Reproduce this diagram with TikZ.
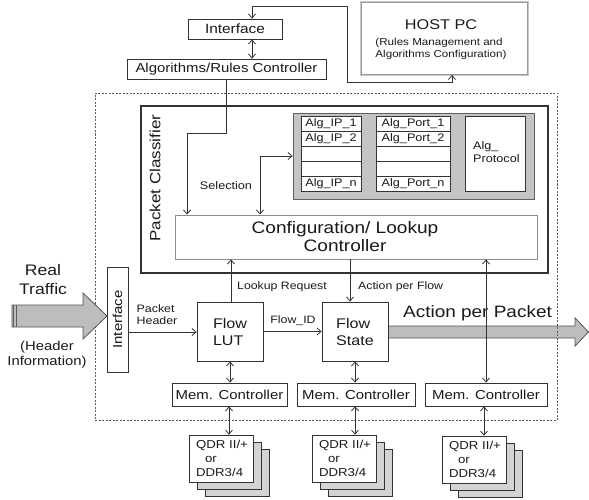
\documentclass[tikz,border=0pt]{standalone}
\usepackage{fontspec}
\setmainfont{Liberation Sans}[FakeStretch=1.15]
\usetikzlibrary{arrows.meta}
\definecolor{ink}{HTML}{1A1A1A}
\definecolor{edge}{HTML}{333333}
\definecolor{softedge}{HTML}{8C8C8C}
\definecolor{panel}{HTML}{C4C4C4}
\definecolor{bigfill}{HTML}{BDBDBD}
\definecolor{layer}{HTML}{D4D4D4}
\newcommand\fz[2]{\fontsize{#1}{#2}\selectfont}

\begin{document}
\begin{tikzpicture}[x=1pt,y=-1pt,
  >={Straight Barb[length=4pt,width=7pt]},
  box/.style={draw=edge, line width=0.8pt, fill=white, inner sep=0pt, text=ink},
  softbox/.style={draw=softedge, line width=0.9pt, fill=white, inner sep=0pt, text=ink},
  cell/.style={draw=edge, line width=0.8pt, fill=white, inner sep=0pt, text=ink,
    font=\fz{11}{13}},
  layerbox/.style={draw=edge, line width=0.7pt, fill=layer, inner sep=0pt,
    minimum width=64, minimum height=47},
  label/.style={text=ink, inner sep=0pt},
  link/.style={draw=edge, line width=0.8pt},
  frame/.style={draw=edge!80, line width=0.7pt, dash pattern=on 2pt off 1.5pt,
    inner sep=0pt},
  bigarrow/.style={fill=bigfill, draw=edge!85, line width=0.8pt, line join=miter}
]
\useasboundingbox (0,0) rectangle (589,500);

% ---- output arrow (behind the frame) ----
\draw[bigarrow] (388,326) -- (575,326) -- (575,318) -- (588.5,332) -- (575,346)
  -- (575,338) -- (388,338) -- cycle;
\node[label, font=\fz{16.5}{19}] (app) at (477.5,313) {Action per Packet};

% ---- FPGA frame ----
\node[frame, minimum width=462, minimum height=327] (fpga) at (326,256.5) {};

% ---- host side ----
\node[box, minimum width=94, minimum height=20, font=\fz{13.4}{15}] (iftop) at (235,29) {Interface};
\node[box, minimum width=199, minimum height=20, font=\fz{13}{15}] (alg) at (226.5,69) {Algorithms/Rules Controller};
\node[draw=gray!45, line width=2.2pt, minimum width=167, minimum height=73] (hostshade) at (444.5,38.5) {};
\node[draw=gray!80, line width=0.8pt, fill=white, minimum width=166, minimum height=72] (host) at (444.5,38.5) {};
\node[label, font=\fz{14.1}{16}] (hosttitle) at (441,25) {HOST PC};
\node[label, font=\fz{10.1}{12}, align=left] (hostsub) at (441,49) {(Rules Management and\\Algorithms Configuration)};

% ---- packet classifier ----
\node[draw=edge, line width=1.8pt, minimum width=407, minimum height=167, inner sep=0pt] (pc) at (344.5,189.5) {};
\node[label, font=\fz{14.8}{17}, rotate=90] (pclabel) at (155,178) {Packet Classifier};

\node[draw=gray!75!black, line width=0.8pt, fill=panel, minimum width=241, minimum height=86, inner sep=0pt] (tbl) at (413.5,156) {};
\node[cell, minimum width=60, minimum height=15] (ip1) at (331,123.5) {Alg\_IP\_1};
\node[cell, minimum width=60, minimum height=15] (ip2) at (331,138.5) {Alg\_IP\_2};
\node[cell, minimum width=60, minimum height=15] (ip3) at (331,153.5) {};
\node[cell, minimum width=60, minimum height=15] (ip4) at (331,168.5) {};
\node[cell, minimum width=60, minimum height=15] (ip5) at (331,183.5) {Alg\_IP\_n};
\node[cell, minimum width=74, minimum height=15] (pt1) at (413,123.5) {Alg\_Port\_1};
\node[cell, minimum width=74, minimum height=15] (pt2) at (413,138.5) {Alg\_Port\_2};
\node[cell, minimum width=74, minimum height=15] (pt3) at (413,153.5) {};
\node[cell, minimum width=74, minimum height=15] (pt4) at (413,168.5) {};
\node[cell, minimum width=74, minimum height=15] (pt5) at (413,183.5) {Alg\_Port\_n};
\node[cell, minimum width=60, minimum height=75] (proto) at (495,153.5) {};
\node[label, font=\fz{11}{13}, align=left, anchor=west] (protolabel) at (473,152.5) {Alg\_\\Protocol};

\node[softbox, minimum width=362, minimum height=44] (cfg) at (356,237) {};
\node[label, font=\fz{16.6}{18}, align=center] (cfglabel) at (345,237) {Configuration/ Lookup\\Controller};

\node[label, font=\fz{11}{13}] (sel) at (226,186) {Selection};

% ---- data path ----
\node[box, minimum width=21, minimum height=105] (ifv) at (117.5,319.5) {};
\node[label, font=\fz{13}{15}, rotate=90] (ifvlabel) at (ifv.center) {Interface};

\node[box, minimum width=66, minimum height=59, font=\fz{14}{17}, align=left] (lut) at (230,331.5) {Flow\\LUT};
\node[box, minimum width=66, minimum height=59, font=\fz{14}{17}, align=left] (fs) at (355,331.5) {Flow\\State};

\node[label, font=\fz{10.8}{12}, align=left] (phdr) at (157,315) {Packet\\Header};
\node[label, font=\fz{10.7}{12}] (fid) at (293,321) {Flow\_ID};
\node[label, font=\fz{10.7}{12}, anchor=west] (lreq) at (237,287) {Lookup Request};
\node[label, font=\fz{10.7}{12}, anchor=west] (apf) at (358,287) {Action per Flow};

% ---- memory controllers ----
\node[box, minimum width=115, minimum height=23, font=\fz{13}{15}] (mem1) at (229.5,394.5) {Mem. Controller};
\node[box, minimum width=118, minimum height=23, font=\fz{13}{15}] (mem2) at (356,394.5) {Mem. Controller};
\node[box, minimum width=122, minimum height=23, font=\fz{13}{15}] (mem3) at (486,394.5) {Mem. Controller};

% ---- external memories (stacked) ----
\foreach \n/\cx/\cy in {1/221/458.5, 2/344/458.5, 3/474/459.5}{
  \node[layerbox] (q\n c) at (\cx+16,\cy+14) {};
  \node[layerbox] (q\n b) at (\cx+8,\cy+7) {};
  \node[layerbox, fill=white] (q\n) at (\cx,\cy) {};
  \node[label, font=\fz{11.5}{14}, align=left] (q\n t) at (\cx+1,\cy) {QDR II/+\\\hspace*{9pt}or\\DDR3/4};
}

% ---- input arrow ----
\draw[bigarrow] (12,305) -- (83,305) -- (83,293) -- (107,316) -- (83,339) -- (83,327)
  -- (12,327) -- cycle;
\draw[edge!80, line width=1pt] (13.5,305) -- (13.5,327) (16.5,305) -- (16.5,327);
\node[label, font=\fz{15.3}{19}, align=center] (rt) at (43,279.5) {Real\\Traffic};
\node[label, font=\fz{12.9}{15}, align=center] (hi) at (47,354.5) {(Header\\Information)};

% ---- connectors ----
\coordinate (xa) at (252,0);
\coordinate (xh) at (452,0);
\coordinate (k1) at (347,6);
\coordinate (k2) at (347,82);
\draw[link,<->] (iftop.north -| xa) |- (k1) -- (k2) -| (host.south -| xh);
\draw[link,<->] (iftop.south -| xa) -- (alg.north -| xa);

\coordinate (xb) at (226,0);
\coordinate (k3) at (187,133);
\draw[link,->] (alg.south -| xb) |- (k3) -- (cfg.north -| k3);

\coordinate (k4) at (260,156);
\draw[link,<->] (cfg.north -| k4) |- (tbl.west |- k4);

\coordinate (xl) at (231,0);
\coordinate (xf) at (350,0);
\coordinate (xr) at (486,0);
\draw[link,->] (lut.north -| xl) -- (cfg.south -| xl);
\draw[link,->] (cfg.south -| xf) -- (fs.north -| xf);
\draw[link,<->] (cfg.south -| xr) -- (mem3.north -| xr);

\coordinate (k5) at (0,332);
\draw[link,->] (ifv.east |- k5) -- (lut.west |- k5);
\draw[link,->] (lut.east) -- (fs.west);

\draw[link,<->] (lut.south) -- (lut.south |- mem1.north);
\draw[link,<->] (fs.south) -- (fs.south |- mem2.north);

\coordinate (xs1) at (229,0);
\coordinate (xs2) at (355,0);
\coordinate (xs3) at (484,0);
\draw[link,<->] (mem1.south -| xs1) -- (q1.north -| xs1);
\draw[link,<->] (mem2.south -| xs2) -- (q2.north -| xs2);
\draw[link,<->] (mem3.south -| xs3) -- (q3.north -| xs3);
\end{tikzpicture}
\end{document}
